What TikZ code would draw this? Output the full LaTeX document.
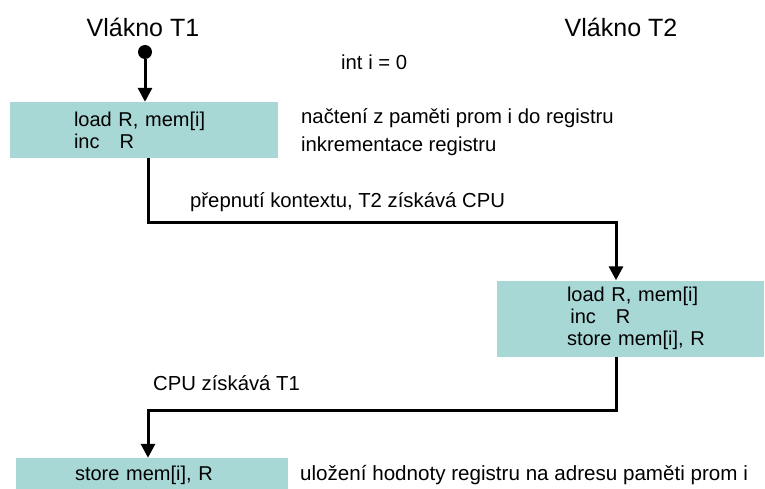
\documentclass[tikz,border=0pt]{standalone}
\usepackage{fontspec}
\setmainfont{Liberation Sans}
\definecolor{boxteal}{RGB}{168, 216, 214}
\usepackage{tikz}
\usetikzlibrary{arrows.meta, positioning}

\begin{document}
\begin{tikzpicture}[x=1pt, y=-1pt,
  codebox/.style={fill=boxteal, draw=none, align=left, inner ysep=0pt, font=\fontsize{20}{22}\selectfont},
  note/.style={anchor=west, inner sep=0pt, font=\fontsize{20.3}{24}\selectfont},
  flow/.style={line width=3pt, -{Triangle[width=14pt, length=14pt]}}]
  \useasboundingbox (0,0) rectangle (765,489);

  % thread titles
  \node[font=\fontsize{25}{28}\selectfont] (titleA) at (143,27) {Vlákno T1};
  \node[font=\fontsize{25}{28}\selectfont] (titleB) at (621,27) {Vlákno T2};
  \node[note] (init) at (341,62) {int i = 0};

  % T1 first part
  \node[circle, fill, inner sep=0pt, minimum size=14pt] (start) at (145,52) {};
  \node[codebox, inner xsep=64pt, text width=140pt, minimum height=56pt] (loadA) at (144,130) {load R, mem[i]\\inc\ \ \ R};
  \draw[flow] (start) -- (start |- loadA.north);
  \node[note] (noteLoad) at (301,118) {načtení z paměti prom i do registru};
  \node[note] (noteInc) at (301,146) {inkrementace registru};

  % switch to T2
  \coordinate (bendA) at (148,222);
  \coordinate (bendB) at (616,222);
  \node[note] (switchB) at (190,202) {přepnutí kontextu, T2 získává CPU};
  \node[codebox, inner xsep=70pt, text width=127pt, minimum height=76pt] (loadB) at (630.5,318.5)
    {\mbox{load R, mem[i]}\\\mbox{\,inc\ \ \ R}\\\mbox{store mem[i], R}};
  \draw[flow] (bendA |- loadA.south) -- (bendA) -- (bendB) -- (bendB |- loadB.north);

  % back to T1
  \coordinate (bendC) at (616,410);
  \coordinate (bendD) at (148,410);
  \node[note] (switchA) at (153,383) {CPU získává T1};
  \node[codebox, inner xsep=59pt, text width=154pt, minimum height=34pt] (storeA) at (152,475) {store mem[i], R};
  \draw[flow] (bendC |- loadB.south) -- (bendC) -- (bendD) -- (bendD |- storeA.north);
  \node[note, font=\fontsize{20.6}{24}\selectfont] (noteStore) at (300,475) {uložení hodnoty registru na adresu paměti prom i};
\end{tikzpicture}
\end{document}
